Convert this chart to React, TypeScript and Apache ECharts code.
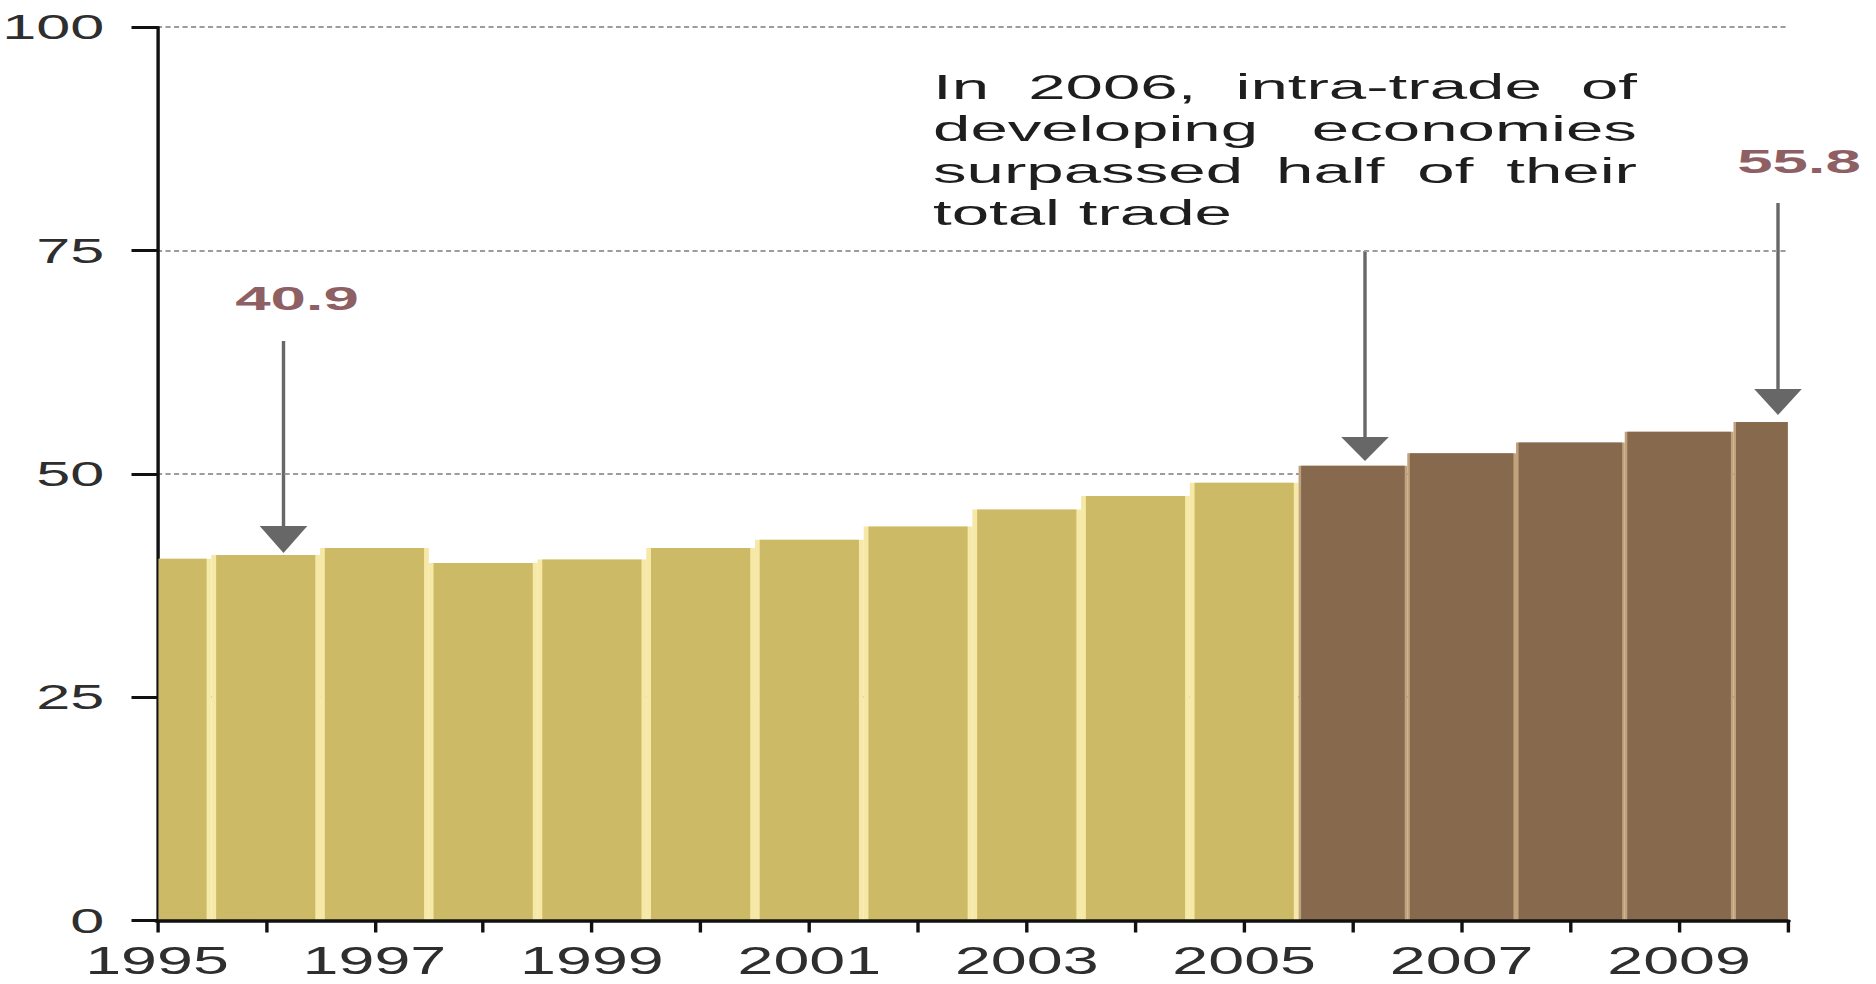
import React, { useEffect, useRef } from 'react';
import * as echarts from 'echarts';

// ---- data ----
const years = ['1995', '1996', '1997', '1998', '1999', '2000', '2001', '2002', '2003', '2004', '2005', '2006', '2007', '2008', '2009', '2010'];
const shares = [40.5, 40.9, 41.7, 40.0, 40.4, 41.7, 42.6, 44.1, 46.0, 47.5, 49.0, 50.9, 52.3, 53.5, 54.7, 55.8];
const xTickLabels = ['1995', '1997', '1999', '2001', '2003', '2005', '2007', '2009'];
const yTickValues = [0, 25, 50, 75, 100];
const surpassYear = '2006';
const calloutTexts = ['40.9', '55.8'];
const noteLines = ['In 2006, intra-trade of', 'developing economies', 'surpassed half of their', 'total trade'];

// ---- layout / style ----
const PAGE_W = 1876;
const PAGE_H = 984;
const S = 1.7; // horizontal stretch of the whole picture
const CW = PAGE_W / S;
const FONT = '"Liberation Sans", Arial, sans-serif';
const GOLD = '#CCBA66';
const GOLD_GAP = '#F6E8A6';
const BROWN = '#876A4D';
const BROWN_GAP = '#C0A27C';
const ARROW = '#676767';
const CALLOUT = '#8E6064';

function measure(text: string, size: number, weight = 'normal'): number {
  const c = document.createElement('canvas').getContext('2d');
  if (!c) return text.length * size * 0.5;
  c.font = `${weight} ${size}px ${FONT}`;
  return c.measureText(text).width;
}

function buildGraphic() {
  const els: any[] = [];
  const arrows = [
    { x: 283.5 / S, y0: 341, headTop: 526, tip: 553 },
    { x: 1365 / S, y0: 251, headTop: 437, tip: 461 },
    { x: 1778 / S, y0: 203, headTop: 389, tip: 415 },
  ];
  arrows.forEach((a) => {
    els.push({
      type: 'line',
      shape: { x1: a.x, y1: a.y0, x2: a.x, y2: a.headTop + 2 },
      style: { stroke: ARROW, lineWidth: 2 },
    });
    els.push({
      type: 'polygon',
      shape: { points: [[a.x - 14, a.headTop], [a.x + 14, a.headTop], [a.x, a.tip]] },
      style: { fill: ARROW },
    });
  });
  const calloutPos = [
    { x: 297 / S, y: 298 },
    { x: 1799 / S, y: 161 },
  ];
  calloutTexts.forEach((t, i) => {
    els.push({
      type: 'text',
      x: calloutPos[i].x,
      y: calloutPos[i].y,
      scaleX: 1.1,
      style: {
        text: t,
        fontSize: 34,
        fontWeight: 'bold',
        fontFamily: FONT,
        fill: CALLOUT,
        align: 'center',
        verticalAlign: 'middle',
        textAlign: 'center',
        textVerticalAlign: 'middle',
      },
    });
  });
  const NF = 35;
  const left = 933 / S;
  const right = 1637 / S;
  const lineYs = [87, 129, 171, 213];
  const sx = (299 / S) / measure('total trade', NF);
  const localW = (right - left) / sx;
  const children: any[] = [];
  noteLines.forEach((line, li) => {
    const words = line.split(' ');
    const ws = words.map((w) => measure(w, NF));
    const sum = ws.reduce((a, b) => a + b, 0);
    const justify = li < noteLines.length - 1 && words.length > 1;
    const gap = justify ? (localW - sum) / (words.length - 1) : measure(' ', NF);
    let x = 0;
    words.forEach((w, i) => {
      children.push({
        type: 'text',
        x,
        y: lineYs[li],
        style: {
          text: w,
          fontSize: NF,
          fontFamily: FONT,
          fill: '#1e1e1e',
          align: 'left',
          verticalAlign: 'middle',
          textAlign: 'left',
          textVerticalAlign: 'middle',
        },
      });
      x += ws[i] + gap;
    });
  });
  els.push({ type: 'group', x: left, y: 0, scaleX: sx, children });
  return els;
}

export default function App() {
  const ref = useRef<HTMLDivElement>(null);
  useEffect(() => {
    if (!ref.current) return;
    const chart = echarts.init(ref.current, null, { renderer: 'svg' });
    const splitIdx = years.indexOf(surpassYear);
    const data = shares.map((v, i) => [i, v]);
    chart.setOption({
      animation: false,
      backgroundColor: '#ffffff',
      grid: {
        left: 157 / S,
        right: CW - 1787 / S,
        top: 27,
        bottom: PAGE_H - 920.5,
        containLabel: false,
        outerBoundsMode: 'none',
      },
      xAxis: {
        type: 'category',
        data: years,
        boundaryGap: false,
        axisLine: { show: true, lineStyle: { color: '#111', width: 3.5 } },
        axisTick: { show: true, interval: 0, length: 12, lineStyle: { color: '#111', width: 2 } },
        axisLabel: {
          interval: 0,
          formatter: (v: string) => (xTickLabels.includes(v) ? v : ''),
          showMaxLabel: false,
          margin: 21,
          fontSize: 38,
          fontFamily: FONT,
          color: '#2e2e2e',
        },
        splitLine: { show: false },
        z: 10,
      },
      yAxis: {
        type: 'value',
        min: yTickValues[0],
        max: yTickValues[yTickValues.length - 1],
        interval: yTickValues[1] - yTickValues[0],
        axisLine: { show: true, lineStyle: { color: '#111', width: 2 } },
        axisTick: { show: true, length: 15, lineStyle: { color: '#111', width: 3 } },
        axisLabel: { margin: 31, fontSize: 36, fontFamily: FONT, color: '#2e2e2e' },
        splitLine: { show: true, lineStyle: { color: '#9c9c9c', width: 2, type: [3, 2] } },
        z: 0,
      },
      series: [
        {
          type: 'custom',
          clip: true,
          data,
          encode: { x: 0, y: 1 },
          renderItem: (params: any, api: any) => {
            const idx = api.value(0);
            const v = api.value(1);
            const top = api.coord([idx, v]);
            const base = api.coord([idx, 0]);
            const band = api.size([1, 0])[0];
            const brown = idx >= splitIdx;
            const inset = brown ? 1.5 : 2.8;
            const cs = params.coordSys;
            const clipArea = { x: cs.x + 1, y: cs.y, width: cs.width - 1, height: cs.height };
            const outer = echarts.graphic.clipRectByRect(
              { x: top[0] - band / 2, y: top[1], width: band, height: base[1] - top[1] },
              clipArea
            );
            const inner = echarts.graphic.clipRectByRect(
              { x: top[0] - band / 2 + inset, y: top[1], width: band - 2 * inset, height: base[1] - top[1] },
              clipArea
            );
            const children: any[] = [];
            if (outer) children.push({ type: 'rect', shape: outer, style: { fill: brown ? BROWN_GAP : GOLD_GAP } });
            if (inner) children.push({ type: 'rect', shape: inner, style: { fill: brown ? BROWN : GOLD } });
            return { type: 'group', children };
          },
          z: 2,
        },
      ],
      graphic: buildGraphic(),
    });
    return () => chart.dispose();
  }, []);
  return (
    <div style={{ position: 'fixed', left: 0, top: 0, width: PAGE_W, height: PAGE_H, overflow: 'hidden', background: '#fff' }}>
      <div
        ref={ref}
        style={{ width: CW, height: PAGE_H, transform: `scaleX(${S})`, transformOrigin: '0 0' }}
      />
    </div>
  );
}
